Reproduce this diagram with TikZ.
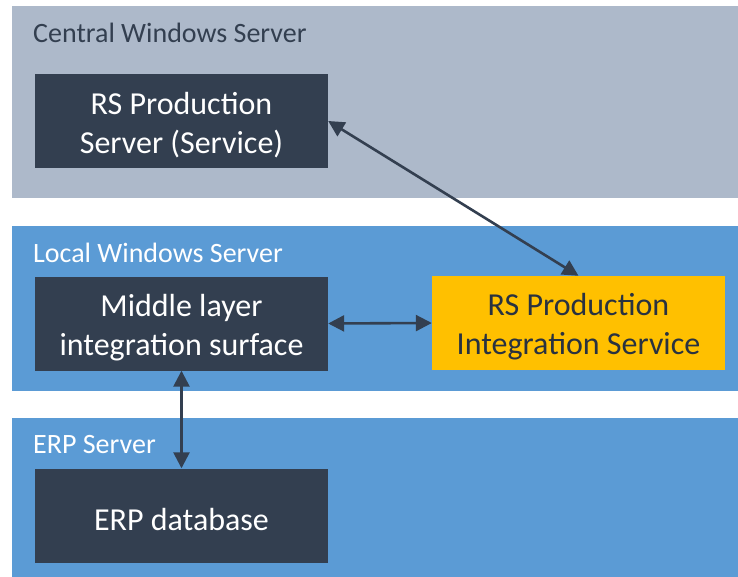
\documentclass[tikz,border=0pt]{standalone}
\usepackage{fontspec}
\setmainfont{Carlito}
\usetikzlibrary{arrows.meta, positioning}

\definecolor{centralgrey}{HTML}{ADB9CA}
\definecolor{localblue}{HTML}{5B9BD5}
\definecolor{boxdark}{HTML}{333F50}
\definecolor{svcyellow}{HTML}{FFC000}

\newcommand{\boxstrut}{\rule{0pt}{30pt}}

\tikzset{
    serverlabel/.style={anchor=base west, inner sep=0pt, font=\fontsize{28}{33}\selectfont},
    hostbox/.style={rectangle, fill=boxdark, text=white, minimum width=293pt, minimum height=94pt,
        inner sep=0pt, align=center, font=\fontsize{32}{39}\selectfont},
    link/.style={draw=boxdark, line width=2.6pt, {Triangle[length=16pt,width=16pt]}-{Triangle[length=16pt,width=16pt]}}
}

\begin{document}
\begin{tikzpicture}[x=1pt, y=-1pt]
    \useasboundingbox (0,0) rectangle (738,577);
    % server bands
    \fill[centralgrey] (12,6) rectangle (738,198);
    \fill[localblue] (12,226) rectangle (738,391);
    \fill[localblue] (12,418) rectangle (738,577);

    \path (33,43) node [serverlabel, text=boxdark] (centrallabel) {Central Windows Server}
        (33,262) node [serverlabel, text=white] (locallabel) {Local Windows Server}
        (33,453) node [serverlabel, text=white] (erplabel) {ERP Server};

    \path (181.5,121) node [hostbox] (rsserver) {\boxstrut RS Production\\Server (Service)}
        (181.5,323.5) node [hostbox] (middle) {\boxstrut Middle layer\\integration surface}
        (578.5,323) node [hostbox, fill=svcyellow, text=boxdark!80!black] (integration) {\boxstrut RS Production\\Integration Service}
        (181.5,515.5) node [hostbox] (erpdb) {\boxstrut ERP database};

    \draw[link] (rsserver.east) -- (integration.north);
    \draw[link] (middle.east) -- (integration.west);
    \draw[link] (middle.south) -- (erpdb.north);
\end{tikzpicture}
\end{document}
